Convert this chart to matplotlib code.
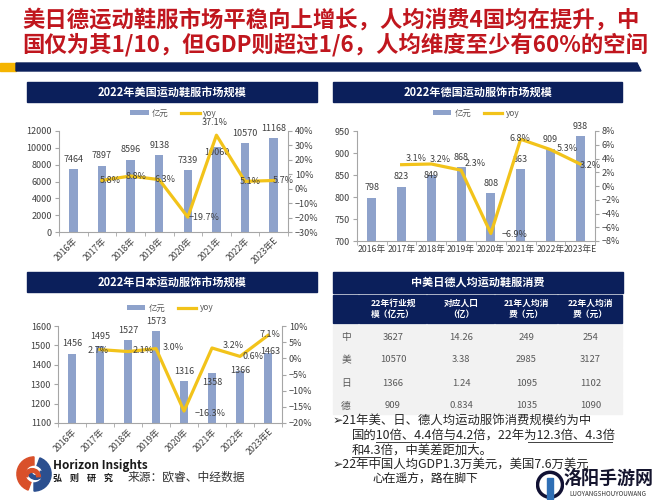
import matplotlib
matplotlib.use('Agg')
from matplotlib import pyplot as plt
from matplotlib.patches import Rectangle, Polygon, Wedge, Circle
from matplotlib.ticker import FuncFormatter, FixedLocator

plt.rcParams['font.family'] = ['Noto Sans CJK SC', 'DejaVu Sans']

W, H = 667, 500

# ---- data ----
years = ['2016年', '2017年', '2018年', '2019年', '2020年', '2021年', '2022年', '2023年E']

us_size = [7464, 7897, 8596, 9138, 7339, 10060, 10570, 11168]
us_yoy = [5.8, 8.8, 6.3, -19.7, 37.1, 5.1, 5.7]

de_size = [798, 823, 849, 868, 808, 863, 909, 938]
de_yoy = [3.1, 3.2, 2.3, -6.9, 6.8, 5.3, 3.2]

jp_size = [1456, 1495, 1527, 1573, 1316, 1358, 1366, 1463]
jp_yoy = [2.7, 2.1, 3.0, -16.3, 3.2, 0.6, 7.1]

table_cols = ['22年行业规\n模（亿元）', '对应人口\n（亿）', '21年人均消\n费（元）', '22年人均消\n费（元）']
table_rows = ['中', '美', '日', '德']
table_vals = [['3627', '14.26', '249', '254'],
              ['10570', '3.38', '2985', '3127'],
              ['1366', '1.24', '1095', '1102'],
              ['909', '0.834', '1035', '1090']]

NAVY = '#0B1F5B'
BAR = '#8EA2CB'
LINE = '#F2C31A'
TXT = '#404040'


def rect(x0, y0, x1, y1):
    return [x0 / W, 1 - y1 / H, (x1 - x0) / W, (y1 - y0) / H]


def ftext(x, y, s, **kw):
    fig.text(x / W, 1 - y / H, s, **kw)


def header(x0, y0, x1, y1, title):
    fig.patches.append(Rectangle((x0 / W, 1 - y1 / H), (x1 - x0) / W, (y1 - y0) / H,
                                 transform=fig.transFigure, color=NAVY))
    ftext((x0 + x1) / 2, (y0 + y1) / 2, title, color='white', fontsize=8,
          fontweight='bold', ha='center', va='center')


def chart(box, head, title, sizes, yoy, ylim, yticks, y2lim, y2ticks,
          legend_y, rotate, val_dy, yoy_off):
    header(*head, title)
    ax = fig.add_axes(rect(*box))
    xs = list(range(len(sizes)))
    bars = ax.bar(xs, sizes, width=0.3, color=BAR, zorder=2)
    ax.set_xlim(-0.5, len(sizes) - 0.5)
    ax.set_ylim(*ylim)
    ax.set_yticks(yticks)
    ax.set_xticks(xs)
    ax.set_xticklabels(years)
    ax.xaxis.set_minor_locator(FixedLocator([i + 0.5 for i in range(-1, len(sizes))]))
    ax.tick_params(axis='x', which='major', length=0, labelsize=6.3, labelcolor=TXT, pad=3)
    ax.tick_params(axis='x', which='minor', length=3, color='#A6A6A6')
    ax.tick_params(axis='y', length=3, color='#A6A6A6', labelsize=6.5, labelcolor=TXT, pad=2)
    if rotate:
        for lb in ax.get_xticklabels():
            lb.set_rotation(45)
            lb.set_ha('right')
            lb.set_va('top')
            lb.set_rotation_mode('anchor')
    for side in ['left', 'bottom', 'right']:
        ax.spines[side].set_color('#A6A6A6')
        ax.spines[side].set_linewidth(0.8)
    ax.spines['top'].set_visible(False)
    ax.patch.set_alpha(0)
    for i, v in enumerate(sizes):
        dx, dy = val_dy[i]
        ax.annotate(str(v), (i, v), xytext=(dx * 0.72, dy * 0.72), textcoords='offset points',
                    ha='center', va='center', fontsize=6.5, color=TXT, zorder=5)

    ax2 = ax.twinx()
    ax2.set_ylim(*y2lim)
    ax2.set_yticks(y2ticks)
    ax2.yaxis.set_major_formatter(FuncFormatter(lambda v, p: f'{v:.0f}%'.replace('-', '\u2212')))
    ax2.tick_params(axis='y', length=3, color='#A6A6A6', labelsize=6.5, labelcolor=TXT, pad=2)
    for side in ['left', 'bottom', 'right', 'top']:
        ax2.spines[side].set_visible(False)
    line, = ax2.plot(xs[1:], yoy, color=LINE, lw=2.3, zorder=3)
    for j, v in enumerate(yoy):
        dx, dy = yoy_off[j]
        ax2.annotate(f'{v:.1f}%'.replace('-', '\u2212'), (j + 1, v),
                     xytext=(dx * 0.72, dy * 0.72), textcoords='offset points',
                     ha='center', va='center', fontsize=6.5, color=TXT, zorder=5)

    cx = (box[0] + box[2]) / 2
    fig.legend([bars, line], ['亿元', 'yoy'], loc='center',
               bbox_to_anchor=(cx / W, 1 - legend_y / H), ncol=2, frameon=False,
               fontsize=6, handlelength=2.2, handleheight=0.5, columnspacing=1.5,
               handletextpad=0.4, labelcolor='#595959')
    return ax


fig = plt.figure(figsize=(6.67, 5.0), dpi=100)
fig.patch.set_facecolor('white')

# ---- title ----
ftext(22, 20, '美日德运动鞋服市场平稳向上增长，人均消费4国均在提升，中',
      fontsize=16.1, color='#C0161E', fontweight='bold', va='center')
ftext(22, 45, '国仅为其1/10，但GDP则超过1/6，人均维度至少有60%的空间',
      fontsize=16.1, color='#C0161E', fontweight='bold', va='center')
fig.patches.append(Rectangle((0, 1 - 71 / H), 16 / W, 8 / H, transform=fig.transFigure,
                             color='#F5B400'))
fig.patches.append(Polygon([(16 / W, 1 - 63 / H), (637 / W, 1 - 63 / H), (641 / W, 1 - 71 / H),
                            (16 / W, 1 - 71 / H)], closed=True, transform=fig.transFigure,
                           color=NAVY))

# ---- charts ----
chart((59, 131, 288, 232), (27, 82, 317, 102), '2022年美国运动鞋服市场规模',
      us_size, us_yoy, (0, 12000), range(0, 12001, 2000), (-30, 40), range(-30, 41, 10),
      113, True, [(0, 10)] * 5 + [(0, -5)] + [(0, 10)] * 2,
      [(8, 0), (5, 0), (6, 0), (16, 0), (-2, 13), (5, 0), (10, 0)])

chart((357, 131, 595, 241), (333, 82, 622, 102), '2022年德国运动服饰市场规模',
      de_size, de_yoy, (700, 950), range(700, 951, 50), (-8, 8), range(-8, 9, 2),
      113, False, [(0, 10), (0, 10), (0, 0)] + [(0, 10)] * 5,
      [(15, 6), (9, 5), (14, 7), (24, -1), (-1, 1), (17, 1), (10, -1)])

chart((58, 326, 282, 423), (27, 272, 317, 292), '2022年日本运动服饰市场规模',
      jp_size, jp_yoy, (1100, 1600), range(1100, 1601, 100), (-20, 10), range(-20, 11, 5),
      308, True, [(0, 10)] * 5 + [(0, -10), (0, 1), (2, 1)],
      [(-2, -1), (15, 1), (17, 1), (26, -2), (21, 2), (13, 0), (2, 1)])

# ---- table ----
header(333, 272, 623, 293, '中美日德人均运动鞋服消费')
cols_x = [333, 359, 427, 495, 558, 623]
for c in range(5):
    x0, x1 = cols_x[c], cols_x[c + 1]
    fig.patches.append(Rectangle((x0 / W, 1 - 323 / H), (x1 - x0 - 1) / W, 28 / H,
                                 transform=fig.transFigure, color=NAVY))
    if c > 0:
        ftext((x0 + x1) / 2, 309, table_cols[c - 1], color='white', fontsize=6.3,
              fontweight='bold', ha='center', va='center', linespacing=1.3)
for r in range(4):
    y0 = 325 + r * 23
    y1 = min(y0 + 22, 414)
    for c in range(5):
        x0, x1 = cols_x[c], cols_x[c + 1]
        fig.patches.append(Rectangle((x0 / W, 1 - y1 / H), (x1 - x0 - 1) / W, (y1 - y0) / H,
                                     transform=fig.transFigure, color='#F2F2F2'))
    ftext(346, y0 + 12, table_rows[r], fontsize=7, color='#595959', ha='center', va='center')
    for c in range(4):
        ftext((cols_x[c + 1] + cols_x[c + 2]) / 2, y0 + 12, table_vals[r][c], fontsize=6.8,
              color='#595959', ha='center', va='center')

# ---- bullet text ----
bfs = 8.9
ftext(333, 421, '➢21年美、日、德人均运动服饰消费规模约为中', fontsize=bfs, color='#262626', va='center')
ftext(352, 435, '国的10倍、4.4倍与4.2倍，22年为12.3倍、4.3倍', fontsize=bfs, color='#262626', va='center')
ftext(352, 450, '和4.3倍，中美差距加大。', fontsize=bfs, color='#262626', va='center')
ftext(333, 464, '➢22年中国人均GDP1.3万美元，美国7.6万美元', fontsize=bfs, color='#262626', va='center')
for x0, x1, y in [(376, 475, 442), (528, 612, 442), (352, 380, 457)]:
    fig.add_artist(plt.Line2D([x0 / W, x1 / W], [1 - y / H, 1 - y / H], color='#404040', lw=0.7))
ftext(372, 478, '心在遥方，路在脚下', fontsize=8.5, color='#1a1a1a', va='center', style='italic')

# ---- watermark ----
fig.patches.append(Rectangle((533 / W, 0), 134 / W, 30 / H, transform=fig.transFigure,
                             color='white', zorder=5))
wax = fig.add_axes(rect(536, 464, 564, 500), zorder=6)
wax.set_xlim(0, 1)
wax.set_ylim(0, 1.3)
wax.set_aspect('equal')
wax.axis('off')
wax.add_patch(Circle((0.5, 0.55), 0.45, fill=False, lw=2.5, color='#111133'))
wax.add_patch(Rectangle((0.38, 0.05), 0.24, 0.75, color='#2F6FB5'))
fig.text(608 / W, 1 - 478 / H, '洛阳手游网', fontsize=13, fontweight='heavy', color='#15152e',
         ha='center', va='center', zorder=7)
fig.text(608 / W, 1 - 494 / H, 'LUOYANGSHOUYOUWANG', fontsize=4.5, color='#333333',
         ha='center', va='center', zorder=7)

# ---- logo ----
lax = fig.add_axes(rect(16, 456, 52, 492))
lax.set_xlim(-1, 1)
lax.set_ylim(-1, 1)
lax.set_aspect('equal')
lax.axis('off')
lax.add_patch(Wedge((0, 0), 0.95, 90, 250, width=0.45, color='#D9502A'))
lax.add_patch(Wedge((0, 0), 0.95, 270, 430, width=0.45, color='#2B4F8F'))
lax.add_patch(Wedge((0.1, 0.15), 0.45, 180, 360, width=0.2, color='#2B4F8F'))
lax.add_patch(Wedge((-0.1, -0.15), 0.45, 0, 180, width=0.2, color='#D9502A'))
ftext(53, 466, 'Horizon Insights', fontsize=8.5, fontweight='bold', color='#1a1a1a', va='center')
ftext(53, 478, '弘    则    研    究', fontsize=6.5, fontweight='bold', color='#1a1a1a', va='center')
ftext(128, 477, '来源：欧睿、中经数据', fontsize=8.5, color='#333333', va='center')

fig.savefig('out.png', dpi=100)
